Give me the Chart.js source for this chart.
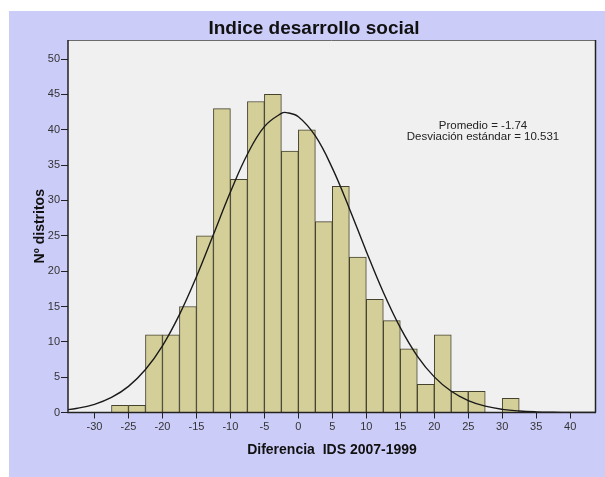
<!DOCTYPE html>
<html lang="es">
<head>
  <meta charset="UTF-8" />
  <title>Indice desarrollo social</title>
  <style>
    html, body {
      margin: 0;
      padding: 0;
      background: #fff;
      overflow: hidden;
    }
    #wrap {
      position: relative;
      width: 605px;
      height: 477px;
    }
  </style>
</head>
<body>
  <div id="wrap"><canvas id="histChart" width="605" height="477"></canvas></div>

  <script src="https://cdn.jsdelivr.net/npm/chart.js"></script>
  <script>
    // histogram bins (width 2.5), centre of each bin
    const binCenters = [-26.25, -23.75, -21.25, -18.75, -16.25, -13.75, -11.25, -8.75, -6.25, -3.75, -1.25,
                        1.25, 3.75, 6.25, 8.75, 11.25, 13.75, 16.25, 18.75, 21.25, 23.75, 26.25, 28.75, 31.25];
    const counts = [1, 1, 11, 11, 15, 25, 43, 33, 44, 45, 37,
                    40, 27, 32, 22, 16, 13, 9, 4, 11, 3, 3, 0, 2];

    // normal curve
    const curveX = [-35, -32.5, -30, -27.5, -25, -22.5, -20, -17.5, -15, -12.5, -10, -7.5, -5, -2.5, -1.74,
                    0, 2.5, 5, 7.5, 10, 12.5, 15, 17.5, 20, 22.5, 25, 27.5, 30, 32.5, 35, 37.5, 40, 42.5, 45];
    const curveY = [0.29, 0.60, 1.16, 2.13, 3.70, 6.08, 9.44, 13.85, 19.20, 25.18, 31.19, 36.54, 40.45, 42.32, 42.43,
                    41.85, 39.12, 34.57, 28.87, 22.79, 17.01, 12.00, 7.99, 5.04, 3.00, 1.69, 0.90, 0.45, 0.21, 0.09, 0.04, 0.015, 0.005, 0];

    const xTicks = [-30, -25, -20, -15, -10, -5, 0, 5, 10, 15, 20, 25, 30, 35, 40];
    const yTicks = [0, 5, 10, 15, 20, 25, 30, 35, 40, 45, 50];

    const chartTitle = 'Indice desarrollo social';
    const xTitle = 'Diferencia  IDS 2007-1999';
    const yTitle = 'Nº distritos';
    const statLines = ['Promedio = -1.74', 'Desviación estándar = 10.531'];

    const FONT = "'Liberation Sans', Arial, sans-serif";

    // backgrounds, frame, titles and stats text
    const spssLook = {
      id: 'spssLook',
      beforeDraw(chart) {
        const c = chart.ctx, a = chart.chartArea;
        c.save();
        c.fillStyle = '#ccccf9';
        c.fillRect(9, 11, chart.width - 9, chart.height - 11);
        c.fillStyle = '#f0f0f0';
        c.fillRect(a.left, a.top, a.right - a.left, a.bottom - a.top);
        c.restore();
      },
      afterDraw(chart) {
        const c = chart.ctx, a = chart.chartArea;
        c.save();
        c.strokeStyle = '#6b6b6b';
        c.lineWidth = 1;
        c.beginPath();
        c.moveTo(a.left, a.top + 0.5);
        c.lineTo(a.right - 0.5, a.top + 0.5);
        c.stroke();
        c.strokeStyle = '#222';
        c.lineWidth = 1.5;
        c.beginPath();
        c.moveTo(a.right - 0.5, a.top);
        c.lineTo(a.right - 0.5, a.bottom);
        c.moveTo(a.left, a.top);
        c.lineTo(a.left, a.bottom);
        c.lineTo(a.right, a.bottom);
        c.stroke();

        c.fillStyle = '#111';
        c.textAlign = 'center';
        c.textBaseline = 'middle';
        c.font = 'bold 19px ' + FONT;
        c.fillText(chartTitle, 314, 29);

        c.font = 'bold 14px ' + FONT;
        c.fillText(xTitle, (a.left + a.right) / 2, 450);
        c.save();
        c.translate(40, (a.top + a.bottom) / 2);
        c.rotate(-Math.PI / 2);
        c.fillText(yTitle, 0, 0);
        c.restore();

        c.fillStyle = '#222';
        c.font = '11.5px ' + FONT;
        c.fillText(statLines[0], 483, 126);
        c.fillText(statLines[1], 483, 137);
        c.restore();
      }
    };

    const ctx = document.getElementById('histChart').getContext('2d');
    const histChart = new Chart(ctx, {
      data: {
        datasets: [
          {
            type: 'line',
            data: curveX.map((x, i) => ({ x: x, y: curveY[i] })),
            borderColor: '#1a1a1a',
            borderWidth: 1.4,
            pointRadius: 0,
            tension: 0.4,
            fill: false,
            order: 0
          },
          {
            type: 'bar',
            data: binCenters.map((x, i) => ({ x: x, y: counts[i] })),
            backgroundColor: '#d4cf99',
            borderColor: '#45422e',
            borderWidth: 1,
            barPercentage: 1,
            categoryPercentage: 1,
            order: 1
          }
        ]
      },
      options: {
        responsive: false,
        animation: false,
        layout: { padding: { top: 40, right: 9, left: 0, bottom: 0 } },
        plugins: {
          legend: { display: false },
          tooltip: { enabled: false },
          title: { display: false }
        },
        scales: {
          x: {
            type: 'linear',
            offset: false,
            min: -33.9,
            max: 43.8,
            afterBuildTicks: s => { s.ticks = xTicks.map(v => ({ value: v })); },
            afterFit: s => { s.height = 64.5; },
            grid: { offset: false, drawOnChartArea: false, drawTicks: true, tickLength: 6, color: '#222' },
            border: { display: false },
            ticks: { color: '#333', font: { family: FONT, size: 11 }, padding: 2, maxRotation: 0 }
          },
          y: {
            min: 0,
            max: 52.7,
            afterBuildTicks: s => { s.ticks = yTicks.map(v => ({ value: v })); },
            afterFit: s => { s.width = 68; },
            grid: { drawOnChartArea: false, drawTicks: true, tickLength: 7, color: '#222' },
            border: { display: false },
            ticks: { color: '#333', font: { family: FONT, size: 11 }, padding: 1 }
          }
        }
      },
      plugins: [spssLook]
    });
  </script>
</body>
</html>
